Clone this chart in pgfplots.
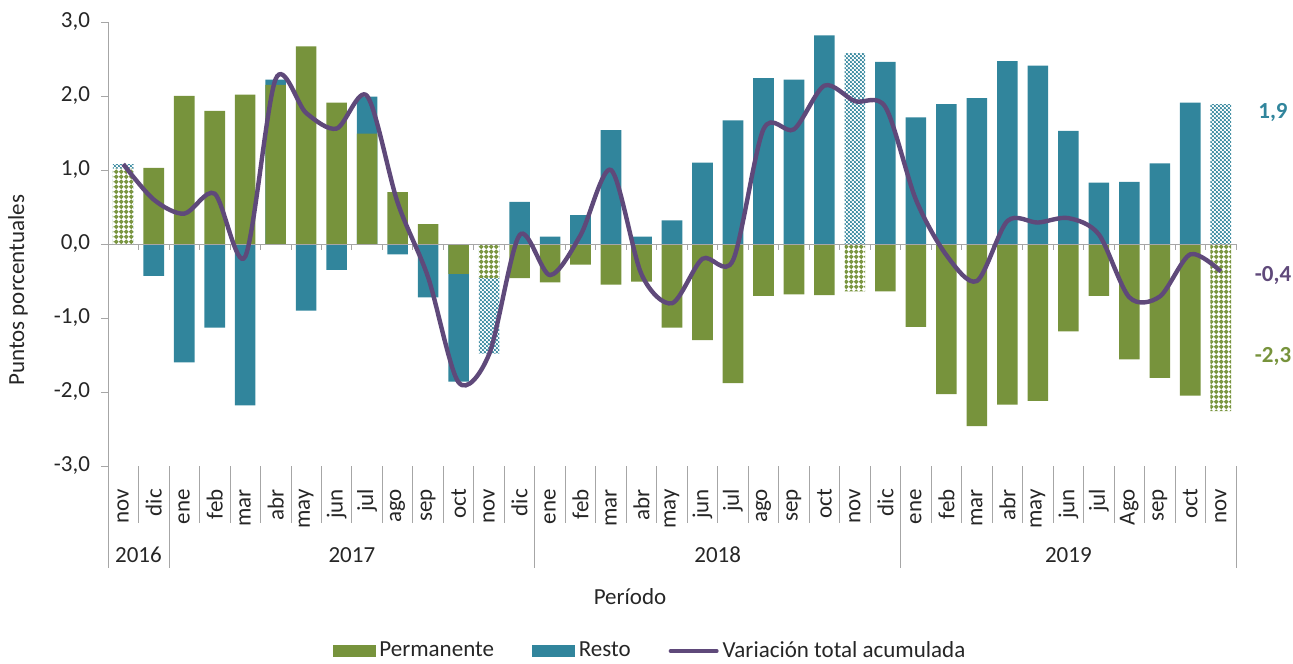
\documentclass[border=0pt]{standalone}
\usepackage{fontspec}
\setmainfont{Carlito}
\usepackage{pgfplots}
\usepackage{pgfplotstable}
\pgfplotsset{compat=1.18}
\usetikzlibrary{patterns}
\definecolor{cgreen}{HTML}{77933C}
\definecolor{cteal}{HTML}{31859C}
\definecolor{cpurple}{HTML}{5F497A}
\definecolor{axgray}{HTML}{A6A6A6}
\definecolor{txt}{HTML}{262626}
\pgfdeclarepatternformonly{rings}{\pgfqpoint{0pt}{0pt}}{\pgfqpoint{2.6pt}{2.6pt}}{\pgfqpoint{2.6pt}{2.6pt}}{\pgfsetlinewidth{0.8pt}\pgfpathcircle{\pgfqpoint{1.3pt}{1.3pt}}{0.85pt}\pgfusepath{stroke}}
\pgfdeclarepatternformonly{tdots}{\pgfqpoint{0pt}{0pt}}{\pgfqpoint{2.2pt}{2.2pt}}{\pgfqpoint{2.2pt}{2.2pt}}{\pgfpathcircle{\pgfqpoint{0.55pt}{0.55pt}}{0.72pt}\pgfpathcircle{\pgfqpoint{1.65pt}{1.65pt}}{0.72pt}\pgfusepath{fill}}

\pgfplotstableread{
x g b t
0 nan nan 1.08
1 1.03 -0.43 0.60
2 2.00 -1.60 0.41
3 1.80 -1.13 0.68
4 2.02 -2.18 -0.17
5 2.15 2.22 2.23
6 2.67 -0.90 1.77
7 1.91 -0.35 1.56
8 1.49 1.99 2.00
9 0.70 -0.14 0.56
10 0.27 -0.72 -0.45
11 -0.405 -1.86 -1.87
12 nan nan -1.49
13 -0.46 0.57 0.12
14 -0.52 0.10 -0.42
15 -0.28 0.39 0.12
16 -0.55 1.54 1.00
17 -0.51 0.10 -0.41
18 -1.13 0.32 -0.80
19 -1.30 1.10 -0.20
20 -1.88 1.67 -0.22
21 -0.70 2.24 1.55
22 -0.68 2.22 1.55
23 -0.69 2.82 2.14
24 nan nan 1.93
25 -0.64 2.46 1.85
26 -1.12 1.71 0.60
27 -2.03 1.89 -0.15
28 -2.46 1.97 -0.50
29 -2.17 2.47 0.31
30 -2.12 2.41 0.29
31 -1.18 1.53 0.35
32 -0.70 0.83 0.13
33 -1.56 0.84 -0.72
34 -1.81 1.09 -0.71
35 -2.05 1.91 -0.14
36 nan nan -0.37
}\data

\pgfplotstableread{
x g b
0 1.02 1.08
12 -0.46 -1.48
24 -0.64 2.58
36 -2.26 1.89
}\patt

\begin{document}
\fontsize{11.5}{13.8}\selectfont
\begin{tikzpicture}
\useasboundingbox (-54pt,-98.5pt) rectangle (592.5pt,233pt);
\begin{axis}[
  at={(0,0)}, anchor=south west,
  scale only axis, width=564pt, height=222pt,
  xmin=-0.5, xmax=36.5, ymin=-3, ymax=3,
  clip=false,
  axis lines=left,
  axis line style={-, draw=axgray},
  x axis line style={draw=none},
  xtick={0,...,36},
  xticklabels={nov,dic,ene,feb,mar,abr,may,jun,jul,ago,sep,oct,nov,dic,ene,feb,mar,abr,may,jun,jul,ago,sep,oct,nov,dic,ene,feb,mar,abr,may,jun,jul,Ago,sep,oct,nov},
  xtick style={draw=none},
  xticklabel style={rotate=90, anchor=east, text=txt},
  xticklabel shift=4pt,
  ytick={-3,-2,-1,0,1,2,3},
  ytick style={draw=axgray},
  tick align=outside,
  major tick length=3.5pt,
  yticklabel style={text=txt, xshift=-1.5pt, /pgf/number format/.cd, fixed, fixed zerofill, precision=1, use comma, assume math mode=true},
  legend columns=3,
  legend style={draw=none, fill=none, at={(axis description cs:0.4814,-0.4167)}, anchor=center, text=txt,
    /tikz/every even column/.append style={column sep=17pt}},
  legend cell align=left,
]
% solid Resto bars (outer end)
\addplot[ybar, bar shift=0pt, bar width=10.3pt, fill=cteal, draw=none, forget plot] table[x=x, y=b] {\data};
% patterned Resto bars
\addplot[ybar, bar shift=0pt, bar width=10.3pt, pattern=tdots, pattern color=cteal, draw=none, forget plot] table[x=x, y=b] {\patt};
% solid Permanente bars
\addplot[ybar, bar shift=0pt, bar width=10.3pt, fill=cgreen, draw=none, forget plot] table[x=x, y=g] {\data};
% patterned Permanente bars
\addplot[ybar, bar shift=0pt, bar width=10.3pt, fill=white, draw=none, forget plot] table[x=x, y=g] {\patt};
\addplot[ybar, bar shift=0pt, bar width=10.3pt, pattern=rings, pattern color=cgreen, draw=none, forget plot] table[x=x, y=g] {\patt};
% zero line and separators
\draw[axgray] (axis cs:-0.5,0) -- (axis cs:36.5,0);
\pgfplotsinvokeforeach{0.5,1.5,...,36.5}{\draw[axgray] (axis cs:#1,0) -- ([yshift=-3pt]axis cs:#1,0);}
\pgfplotsinvokeforeach{0.5,2.5,3.5,4.5,5.5,6.5,7.5,8.5,9.5,10.5,11.5,12.5,14.5,15.5,16.5,17.5,18.5,19.5,20.5,21.5,22.5,23.5,24.5,26.5,27.5,28.5,29.5,30.5,31.5,32.5,33.5,34.5,35.5}{\draw[axgray] (axis cs:#1,-3) -- ([yshift=-28.5pt]axis cs:#1,-3);}
\pgfplotsinvokeforeach{-0.5,1.5,13.5,25.5,36.5}{\draw[axgray] (axis cs:#1,-3) -- ([yshift=-51pt]axis cs:#1,-3);}
% total line
\addplot[cpurple, line width=2.2pt, smooth, tension=0.5, forget plot] table[x=x, y=t] {\data};
% legend
\addlegendimage{legend image code/.code={\fill[cgreen] (0pt,-2.75pt) rectangle (21pt,2.75pt);}}
\addlegendentry{Permanente}
\addlegendimage{legend image code/.code={\fill[cteal] (0pt,-2.75pt) rectangle (21pt,2.75pt);}}
\addlegendentry{Resto}
\addlegendimage{legend image code/.code={\draw[cpurple, line width=2pt, line cap=round] (0pt,0pt) -- (23pt,0pt);}}
\addlegendentry{Variación total acumulada}
% year labels
\node[text=txt] at ([yshift=-44.5pt]axis cs:0.5,-3) {2016};
\node[text=txt] at ([yshift=-44.5pt]axis cs:7.5,-3) {2017};
\node[text=txt] at ([yshift=-44.5pt]axis cs:19.5,-3) {2018};
\node[text=txt] at ([yshift=-44.5pt]axis cs:31,-3) {2019};
% axis titles
\node[text=txt] at (axis description cs:0.4628,-0.295) {Período};
\node[text=txt, rotate=90] at (axis description cs:-0.0798,0.396) {Puntos porcentuales};
% end labels
\node[text=cteal, font=\bfseries] at (axis description cs:1.0328,0.797) {1,9};
\node[text=cpurple, font=\bfseries] at (axis description cs:1.0328,0.428) {-0,4};
\node[text=cgreen, font=\bfseries] at (axis description cs:1.0328,0.2455) {-2,3};
\end{axis}
\end{tikzpicture}
\end{document}
